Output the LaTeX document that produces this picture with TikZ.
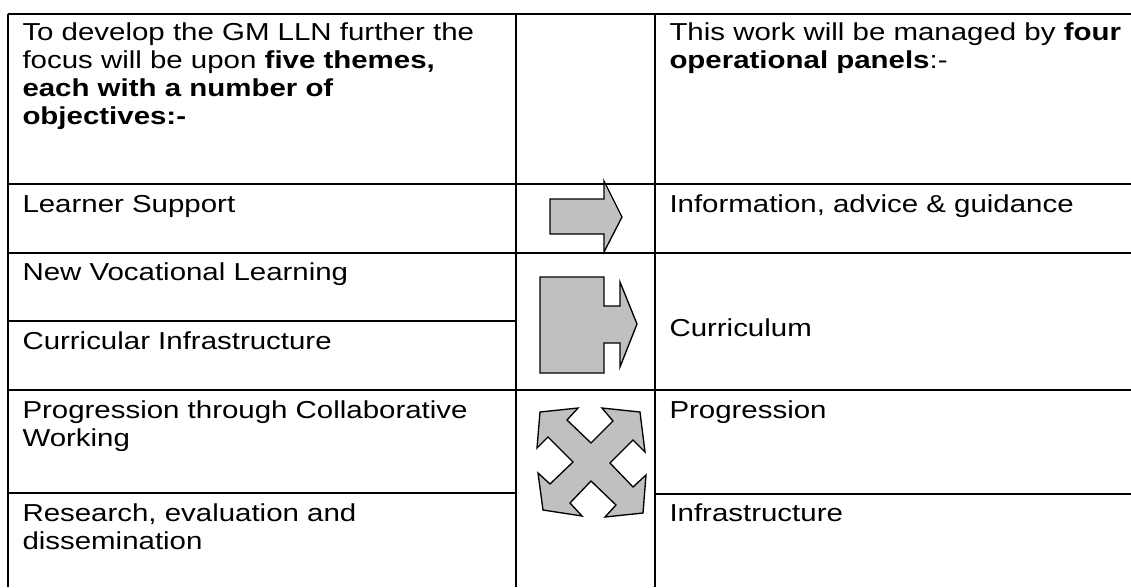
\documentclass[tikz,border=0pt]{standalone}
\usepackage{fontspec}
\setmainfont{Liberation Sans}
\usepackage{graphicx}
\newcommand{\wtext}[1]{\scalebox{1.2}[1]{#1}}

\tikzset{
	cell text/.style={anchor=base west, inner sep=0pt, align=left, font=\fontsize{18.4}{21}\selectfont},
	grid line/.style={line width=1.5pt},
	block arrow/.style={fill={rgb, 255:red, 192; green, 192; blue, 192}, line width=1pt, line join=miter}}
\tikzset{every picture/.style={line width=0.75pt}}

\begin{document}
\begin{tikzpicture}[x=0.75pt,y=0.75pt,yscale=-1,xscale=1]
	\useasboundingbox (0,0) rectangle (1131,587);

	%Straight Lines: table rules
	\draw [grid line] (7.5,14) -- (1131,14) ;
	\draw [grid line] (7.5,184) -- (1131,184) ;
	\draw [grid line] (7.5,252.5) -- (1131,252.5) ;
	\draw [grid line] (7.5,321) -- (516,321) ;
	\draw [grid line] (7.5,390) -- (1131,390) ;
	\draw [grid line] (7.5,493) -- (516,493) ;
	\draw [grid line] (655,493.5) -- (1131,493.5) ;
	\draw [grid line] (7.5,14) -- (7.5,587) ;
	\draw [grid line] (516,14) -- (516,587) ;
	\draw [grid line] (655,14) -- (655,587) ;

	%Shape: Right Arrow
	\draw [block arrow] (550,199) -- (604,199) -- (604,181) -- (622,217) -- (604,252) -- (604,234) -- (550,234) -- cycle ;
	%Shape: Notched Arrow
	\draw [block arrow] (540,277) -- (604,277) -- (604,306) -- (620,306) -- (620,282) -- (637,324) -- (620,367) -- (620,343) -- (604,343) -- (604,373) -- (540,373) -- cycle ;
	%Shape: Quad Arrow
	\draw [block arrow] (540,412) -- (578,408) -- (567,420) -- (591,443) -- (613,421) -- (602,408) -- (640,412) -- (645,452) -- (633,440) -- (610,463) -- (633,487) -- (646,475) -- (643,513) -- (605,517) -- (616,505) -- (591,481) -- (570,503) -- (582,516) -- (543,510) -- (538,473) -- (550,484) -- (573,462) -- (548,437) -- (537,448) -- cycle ;

	% Text Node (multi-line nodes sit on their last baseline)
	\node [cell text] (themesHead) at (22,124) {\wtext{To develop the GM LLN further the}\\ \wtext{focus will be upon \textbf{five themes,}}\\ \wtext{\textbf{each with a number of}}\\ \wtext{\textbf{objectives:-}}};
	% Text Node
	\node [cell text] (panelsHead) at (669,68) {\wtext{This work will be managed by \textbf{four}}\\ \wtext{\textbf{operational panels}:-}};
	% Text Node
	\node [cell text] (learnerSupport) at (22,212) {\wtext{Learner Support}};
	% Text Node
	\node [cell text] (newVocational) at (22,280) {\wtext{New Vocational Learning}};
	% Text Node
	\node [cell text] (curricularInfra) at (22,349) {\wtext{Curricular Infrastructure}};
	% Text Node
	\node [cell text] (progressionWork) at (22,446) {\wtext{Progression through Collaborative}\\ \wtext{Working}};
	% Text Node
	\node [cell text] (research) at (22,549) {\wtext{Research, evaluation and}\\ \wtext{dissemination}};
	% Text Node
	\node [cell text] (infoAdvice) at (669,212) {\wtext{Information, advice \& guidance}};
	% Text Node
	\node [cell text] (curriculum) at (669,336) {\wtext{Curriculum}};
	% Text Node
	\node [cell text] (progression) at (669,418) {\wtext{Progression}};
	% Text Node
	\node [cell text] (infrastructure) at (669,521) {\wtext{Infrastructure}};

\end{tikzpicture}
\end{document}
